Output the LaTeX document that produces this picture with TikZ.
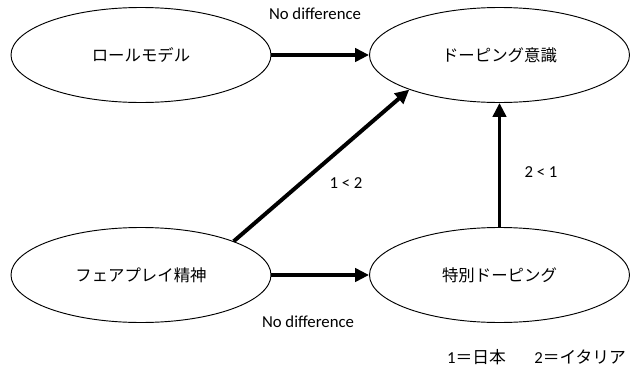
\documentclass[tikz,border=0pt]{standalone}
\usepackage{fontspec}
\setmainfont{Carlito}
\newfontfamily\cjk{Noto Sans CJK JP}
\usetikzlibrary{shapes.geometric,arrows.meta}

\begin{document}
\begin{tikzpicture}[
  oval/.style={draw,ellipse,line width=0.8pt,minimum width=7.8cm,minimum height=2.85cm,font=\cjk\fontsize{14}{16}\selectfont},
  link/.style={-{Triangle[length=0.42cm,width=0.4cm]},line width=3.4pt},
  note/.style={font=\fontsize{14.3}{16}\selectfont}]
\useasboundingbox (0,0) rectangle (18.9,11.1);
\node[oval] (role) at (4.23,9.45) {ロールモデル};
\node[oval] (aware) at (14.985,9.45) {ドーピング意識};
\node[oval] (fair) at (4.23,2.85) {フェアプレイ精神};
\node[oval] (special) at (14.985,2.85) {特別ドーピング};

\draw[link] (role)--(aware);
\draw[link] (fair.20)--(aware.201);
\draw[link] (special)--(aware);
\draw[link] (fair)--(special);

\node[note] (nd1) at (9.45,10.68) {No difference};
\node[note] (nd2) at (9.24,1.44) {No difference};
\node[note] (cmp1) at (10.38,5.61) {1 < 2};
\node[note] (cmp2) at (16.23,5.94) {2 < 1};
\node[note,anchor=east] (key) at (18.9,0.39) {1{\cjk ＝日本}\hspace{1.7em}2{\cjk ＝イタリア}};
\end{tikzpicture}
\end{document}
